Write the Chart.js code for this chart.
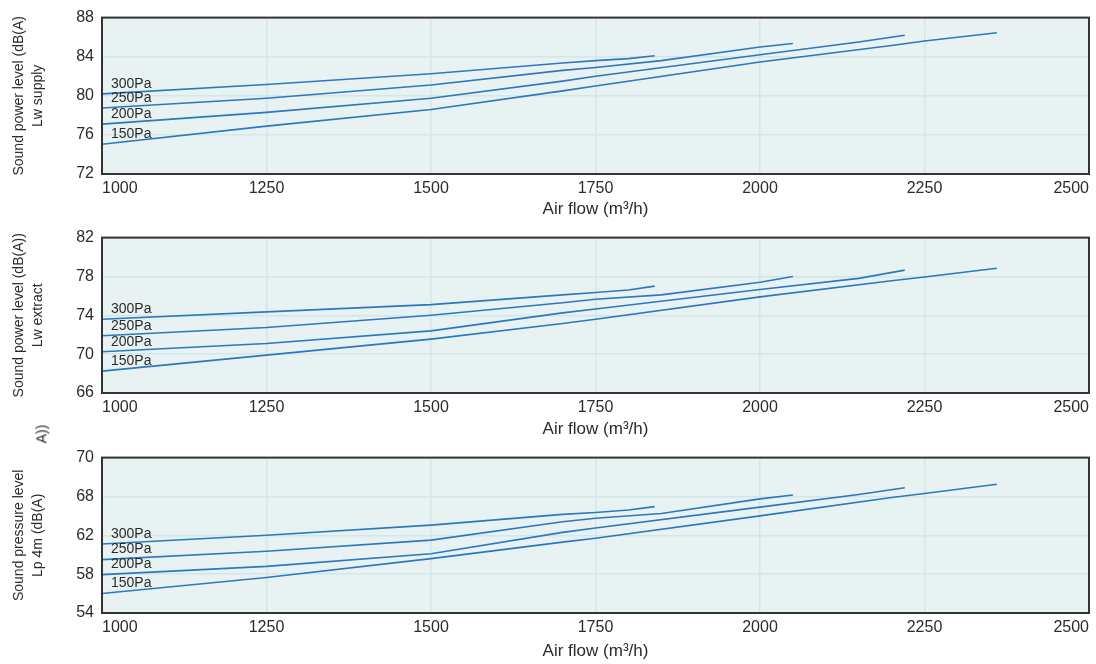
<!DOCTYPE html>
<html>
<head>
<meta charset="utf-8">
<script src="https://cdn.jsdelivr.net/npm/chart.js@4/dist/chart.umd.min.js"></script>
<style>
  body { margin: 0; background: #fff; font-family: "Liberation Sans", Arial, sans-serif; }
  #wrap { position: relative; width: 1096px; height: 664px; }
  .box { position: absolute; left: 0; width: 1096px; }
  #stray { position: absolute; left: 32px; top: 426px; font-size: 14px; color: #2b2b2b;
           transform: rotate(-90deg); transform-origin: center; }
</style>
</head>
<body>
<div id="wrap">
  <div class="box" style="top:0;height:220px"><canvas id="supplyChart"></canvas></div>
  <div class="box" style="top:220px;height:220px"><canvas id="extractChart"></canvas></div>
  <div class="box" style="top:440px;height:224px"><canvas id="lpChart"></canvas></div>
  <div id="stray">A))</div>
</div>
<script>
// air flow (m3/h) sample points per pressure curve
const flow300 = [1000, 1250, 1500, 1700, 1750, 1800, 1840];
const flow250 = [1000, 1250, 1500, 1700, 1750, 1850, 2000, 2050];
const flow200 = [1000, 1250, 1500, 1700, 1750, 2000, 2150, 2220];
const flow150 = [1000, 1250, 1500, 1700, 1750, 2000, 2200, 2250, 2360];
const pressureLabels = ['300Pa', '250Pa', '200Pa', '150Pa'];

// Lw supply dB(A)
const supply300 = [80.2, 81.15, 82.25, 83.35, 83.6, 83.8, 84.1];
const supply250 = [78.75, 79.75, 81.1, 82.6, 82.9, 83.6, 85.0, 85.35];
const supply200 = [77.1, 78.3, 79.75, 81.5, 82.0, 84.2, 85.5, 86.2];
const supply150 = [75.05, 76.9, 78.6, 80.5, 81.0, 83.45, 85.15, 85.6, 86.45];

// Lw extract dB(A)
const extract300 = [73.6, 74.35, 75.1, 76.1, 76.35, 76.6, 77.0];
const extract250 = [71.9, 72.75, 74.0, 75.3, 75.65, 76.1, 77.4, 78.0];
const extract200 = [70.25, 71.1, 72.4, 74.25, 74.65, 76.65, 77.8, 78.65];
const extract150 = [68.25, 69.9, 71.55, 73.15, 73.6, 75.9, 77.55, 77.95, 78.85];

// Lp 4m dB(A)
const lp300 = [61.1, 62.0, 63.05, 64.15, 64.35, 64.6, 64.95];
const lp250 = [59.5, 60.35, 61.5, 63.4, 63.75, 64.25, 65.75, 66.15];
const lp200 = [57.95, 58.8, 60.1, 62.3, 62.75, 64.9, 66.2, 66.9];
const lp150 = [56.0, 57.65, 59.6, 61.3, 61.7, 64.0, 65.9, 66.3, 67.25];

// tick values and labels
const xTicks = [1000, 1250, 1500, 1750, 2000, 2250, 2500];
const supplyTicks = [72, 76, 80, 84, 88];
const extractTicks = [66, 70, 74, 78, 82];
const lpTicks = [54, 58, 62, 66, 70];
const lpTickLabels = ['54', '58', '62', '68', '70'];

const LINE = '#2b78bd';
const GRID = '#d3e6e9';
const BG = '#e9f2f3';
const TEXT = '#2b2b2b';

const plotFrame = {
  id: 'plotFrame',
  beforeDraw(chart) {
    const { ctx, chartArea: a } = chart;
    ctx.save();
    ctx.fillStyle = BG;
    ctx.fillRect(a.left, a.top, a.right - a.left, a.bottom - a.top);
    ctx.restore();
  },
  afterDraw(chart) {
    const { ctx, chartArea: a } = chart;
    ctx.save();
    ctx.strokeStyle = '#333';
    ctx.lineWidth = 2;
    ctx.strokeRect(a.left, a.top, a.right - a.left, a.bottom - a.top);
    // pressure labels at the start of each curve
    ctx.fillStyle = TEXT;
    ctx.font = '14px "Liberation Sans", Arial, sans-serif';
    ctx.textBaseline = 'bottom';
    chart.data.datasets.forEach((ds, i) => {
      const p = chart.getDatasetMeta(i).data[0];
      ctx.fillText(ds.label, a.left + 9, p.y - 3);
    });
    ctx.restore();
  }
};

function toPoints(xs, ys) {
  return xs.map((x, i) => ({ x: x, y: ys[i] }));
}

function makeChart(id, series, yTicks, yLabels, yTitle, padTop, xHeight, titlePad) {
  const flows = [flow300, flow250, flow200, flow150];
  return new Chart(document.getElementById(id), {
    type: 'line',
    data: {
      datasets: series.map((s, i) => ({
        label: pressureLabels[i],
        data: toPoints(flows[i], s),
        borderColor: LINE,
        borderWidth: 1.6,
        pointRadius: 0,
        tension: 0,
        fill: false
      }))
    },
    options: {
      responsive: true,
      maintainAspectRatio: false,
      animation: false,
      layout: { padding: { top: padTop, left: 10, right: 7, bottom: 0 } },
      plugins: { legend: { display: false }, tooltip: { enabled: false } },
      scales: {
        x: {
          type: 'linear',
          min: xTicks[0],
          max: xTicks[xTicks.length - 1],
          afterBuildTicks: s => { s.ticks = xTicks.map(v => ({ value: v })); },
          afterFit: s => { s.height = xHeight; },
          grid: { color: GRID, lineWidth: 1.5, drawTicks: false },
          border: { display: false },
          ticks: { color: TEXT, padding: 5, align: 'inner', maxRotation: 0,
                   font: { family: '"Liberation Sans", Arial', size: 16 },
                   callback: v => String(v) },
          title: { display: true, text: 'Air flow (m\u00b3/h)', color: TEXT,
                   padding: { top: 0, bottom: titlePad },
                   font: { family: '"Liberation Sans", Arial', size: 17 } }
        },
        y: {
          min: yTicks[0],
          max: yTicks[yTicks.length - 1],
          afterBuildTicks: s => { s.ticks = yTicks.map(v => ({ value: v })); },
          afterFit: s => { s.width = 92; },
          grid: { color: GRID, lineWidth: 1.5, drawTicks: false },
          border: { display: false },
          ticks: {
            color: TEXT, padding: 8,
            font: { family: '"Liberation Sans", Arial', size: 16 },
            callback: (v, i) => yLabels ? yLabels[i] : String(v)
          },
          title: { display: true, text: yTitle, color: TEXT, padding: { top: 0, bottom: 0 },
                   font: { family: '"Liberation Sans", Arial', size: 14, lineHeight: 1.35 } }
        }
      }
    },
    plugins: [plotFrame]
  });
}

makeChart('supplyChart', [supply300, supply250, supply200, supply150], supplyTicks, null,
  ['Sound power level (dB(A)', 'Lw supply'], 14, 46, 0);
makeChart('extractChart', [extract300, extract250, extract200, extract150], extractTicks, null,
  ['Sound power level (dB(A))', 'Lw extract'], 13, 47, 0);
makeChart('lpChart', [lp300, lp250, lp200, lp150], lpTicks, lpTickLabels,
  ['Sound pressure level', 'Lp 4m (dB(A)'], 12, 51, 2);
</script>
</body>
</html>
